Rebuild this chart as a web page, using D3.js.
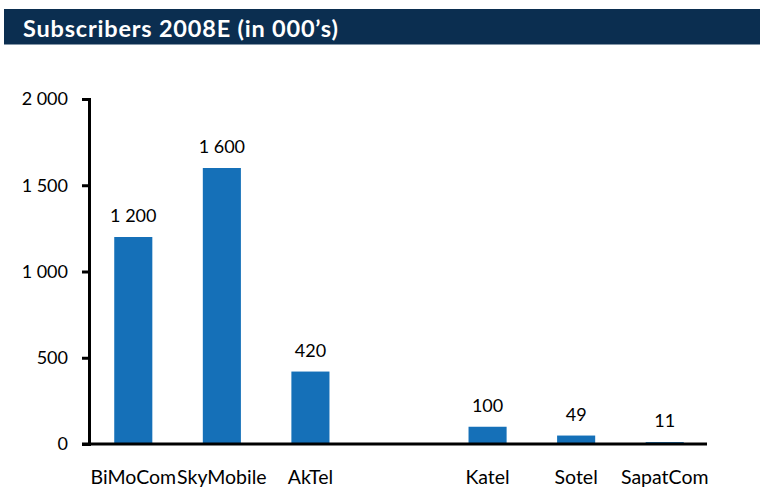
<!DOCTYPE html>
<html>
<head>
<meta charset="utf-8">
<script src="https://cdn.jsdelivr.net/npm/d3@7"></script>
<style>
  html, body { margin: 0; padding: 0; background: #fff; }
  svg { display: block; }
</style>
</head>
<body>
<svg id="chart" width="760" height="488"></svg>
<script>
const title = "Subscribers 2008E (in 000’s)";
const categories = ["BiMoCom", "SkyMobile", "AkTel", " ", "Katel", "Sotel", "SapatCom"];
const values = [1200, 1600, 420, null, 100, 49, 11];
const yTicks = [0, 500, 1000, 1500, 2000];

const W = 760, H = 488;
const svg = d3.select("#chart");
const fmt = d3.formatLocale({ decimal: ".", thousands: " ", grouping: [3], currency: ["", ""] }).format(",");
const font = "Lato, 'Open Sans', sans-serif";

// Title bar
svg.append("rect").attr("x", 4).attr("y", 9).attr("width", W - 4).attr("height", 35.5).attr("fill", "#0b2e50");
svg.append("text").attr("x", 23).attr("y", 36.5).text(title)
  .attr("fill", "#fff").attr("font-family", font).attr("font-weight", 700).attr("font-size", 23.5)
  .attr("letter-spacing", 0.8);

const x = d3.scaleBand().domain(categories).range([89, 709]).paddingInner(0.57).paddingOuter(0.285);
const y = d3.scaleLinear().domain([0, 2000]).range([444, 99]);
const tickLen = 7;

const data = categories.map((c, i) => ({ c, v: values[i] })).filter(d => d.v != null);

// Bars
svg.append("g").selectAll("rect").data(data).join("rect")
  .attr("x", d => x(d.c)).attr("width", x.bandwidth())
  .attr("y", d => y(d.v)).attr("height", d => y(0) - y(d.v))
  .attr("fill", "#1570b8");

// Value labels
svg.append("g").selectAll("text").data(data).join("text")
  .attr("x", d => x(d.c) + x.bandwidth() / 2).attr("y", d => y(d.v) - 15)
  .attr("text-anchor", "middle").attr("font-family", font).attr("font-size", 18).attr("fill", "#000")
  .text(d => fmt(d.v));

// Y axis
const yAxis = svg.append("g").attr("transform", `translate(${x.range()[0]},0)`)
  .call(d3.axisLeft(y).tickValues(yTicks).tickSize(tickLen).tickSizeOuter(0).tickPadding(14).tickFormat(fmt));
yAxis.select(".domain").attr("stroke", "#000").attr("stroke-width", 3).attr("stroke-linecap", "square");
yAxis.selectAll(".tick line").attr("stroke", "#000").attr("stroke-width", 3);
yAxis.selectAll(".tick text").attr("font-family", font).attr("font-size", 18).attr("fill", "#000");

// X axis
const xAxis = svg.append("g").attr("transform", `translate(0,${y(0)})`)
  .call(d3.axisBottom(x).tickSize(0).tickSizeOuter(0).tickPadding(0));
xAxis.select(".domain").remove();
xAxis.append("line").attr("x1", x.range()[0] - tickLen).attr("x2", x.range()[1] - 2)
  .attr("stroke", "#000").attr("stroke-width", 3);
xAxis.selectAll(".tick text").attr("font-family", font).attr("font-size", 19.5).attr("fill", "#000")
  .attr("dy", null).attr("y", 39.5);
</script>
</body>
</html>
